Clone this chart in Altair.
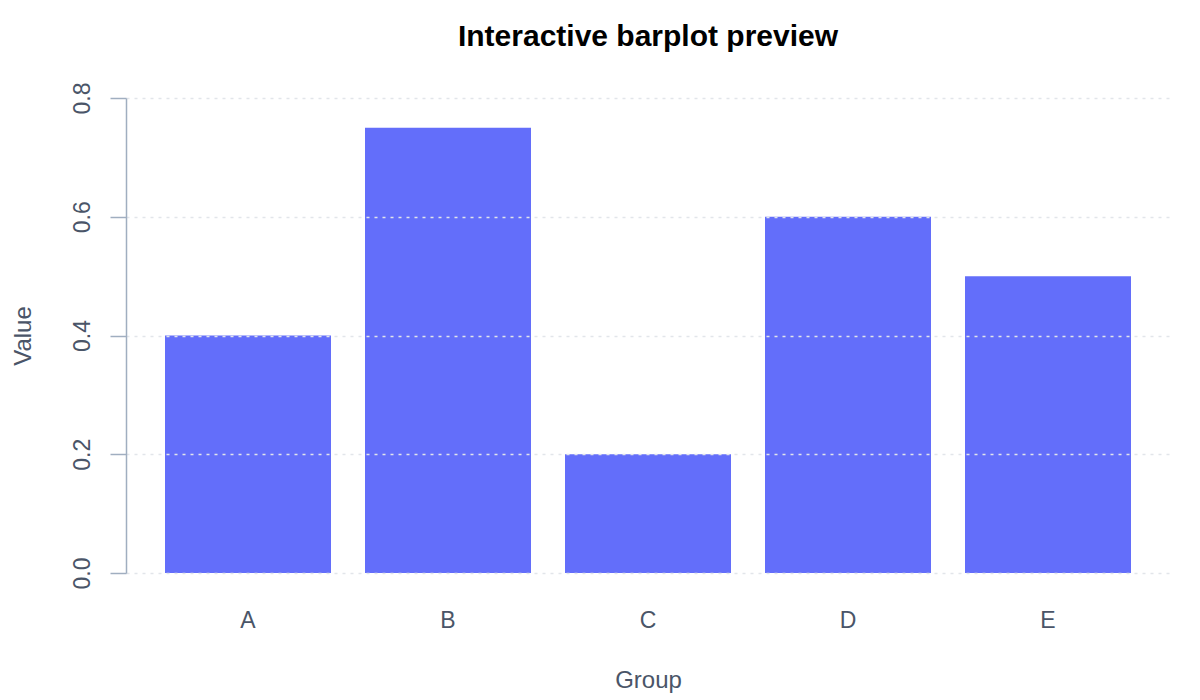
import pandas as pd
import altair as alt

# Bar values
groups = ["A", "B", "C", "D", "E"]
values = [0.40, 0.75, 0.20, 0.60, 0.50]

df = pd.DataFrame({"Group": groups, "Value": values})

label_color = "#4A5568"
axis_color = "#A0AEC0"
grid_color = "#E2E5EA"
font = "Liberation Sans"

bars = alt.Chart(df).mark_bar(color="#636EFA").encode(
    x=alt.X("Group:N", title="Group",
            scale=alt.Scale(paddingInner=0.17, paddingOuter=0.195),
            axis=alt.Axis(labelAngle=0, domain=False, ticks=False, tickSize=0,
                          labelPadding=36, titlePadding=36, grid=False)),
    y=alt.Y("Value:Q", title="Value",
            scale=alt.Scale(domain=[0, 0.8], nice=False),
            axis=alt.Axis(values=[0, 0.2, 0.4, 0.6, 0.8], format=".1f",
                          labelAngle=270, tickSize=16, labelPadding=16,
                          titlePadding=36, grid=True, gridDash=[3, 5],
                          gridColor=grid_color, gridWidth=1.3, zindex=1)),
).properties(
    width=1044,
    height=475,
    title=alt.TitleParams("Interactive barplot preview", fontSize=30,
                          fontWeight="bold", font=font, color="black",
                          anchor="middle", offset=30),
    padding={"left": 118, "top": 90, "right": 22, "bottom": 120},
    autosize=alt.AutoSizeParams(type="none"),
)

chart = bars.configure_view(stroke=None).configure_axis(
    labelFont=font, titleFont=font, labelFontSize=23, titleFontSize=24,
    labelColor=label_color, titleColor=label_color, titleFontWeight="normal",
    domainColor=axis_color, tickColor=axis_color, domainWidth=1.5, tickWidth=1.5,
)

chart.save("out.html", embed_options={"renderer": "svg", "actions": False})
